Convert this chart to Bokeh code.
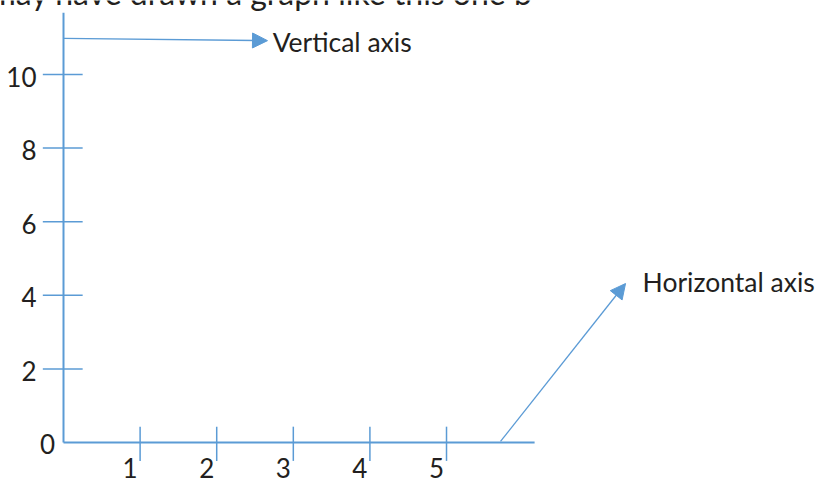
from bokeh.plotting import figure
from bokeh.models import Range1d, Arrow, NormalHead
from bokeh.core.properties import value
from bokeh.embed import file_html
from bokeh.resources import INLINE

# ---- data ----
x_ticks = [1, 2, 3, 4, 5]
x_labels = ["1", "2", "3", "4", "5"]
y_ticks = [2, 4, 6, 8, 10]
y_labels = ["2", "4", "6", "8", "10"]
x_axis_end = 6.15
y_axis_end = 11.68

BLUE = "#5B9BD5"
TXT = "#231F20"
FONT = value("Lato")
NUM_SIZE = "26px"
LBL_SIZE = "26.5px"

p = figure(width=817, height=479, output_backend="svg", toolbar_location=None,
           x_range=Range1d(-0.8225, 9.843), y_range=Range1d(-1.0054, 12.011),
           min_border=0)
p.axis.visible = False
p.grid.visible = False
p.outline_line_color = None
p.background_fill_color = "white"
p.border_fill_color = "white"

# main axes
p.line([0, 0], [0, y_axis_end], line_color=BLUE, line_width=2)
p.line([0, x_axis_end], [0, 0], line_color=BLUE, line_width=2)

# y tick marks and labels
p.segment(x0=[-0.27] * len(y_ticks), y0=y_ticks, x1=[0.25] * len(y_ticks), y1=y_ticks,
          line_color=BLUE, line_width=1.5)
p.text(x=[0] * len(y_ticks), y=y_ticks, text=y_labels, x_offset=-27, y_offset=2,
       text_align="right", text_baseline="middle", text_font=FONT,
       text_font_size=NUM_SIZE, text_color=TXT)

# x tick marks and labels
p.segment(x0=x_ticks, y0=[0.43] * len(x_ticks), x1=x_ticks, y1=[-0.5] * len(x_ticks),
          line_color=BLUE, line_width=1.5)
p.text(x=x_ticks, y=[0] * len(x_ticks), text=x_labels, x_offset=-10, y_offset=25,
       text_align="center", text_baseline="middle", text_font=FONT,
       text_font_size=NUM_SIZE, text_color=TXT)

# origin label
p.text(x=[0], y=[0], text=["0"], x_offset=-16, y_offset=1,
       text_align="center", text_baseline="middle", text_font=FONT,
       text_font_size=NUM_SIZE, text_color=TXT)

# annotation arrows
p.add_layout(Arrow(end=NormalHead(size=15, fill_color=BLUE, line_color=BLUE),
                   x_start=0, y_start=10.98, x_end=2.663, y_end=10.92,
                   line_color=BLUE, line_width=1.3))
p.add_layout(Arrow(end=NormalHead(size=15, fill_color=BLUE, line_color=BLUE),
                   x_start=5.705, y_start=0.03, x_end=7.337, y_end=4.32,
                   line_color=BLUE, line_width=1.3))

p.text(x=[2.73], y=[10.88], text=["Vertical axis"], text_align="left",
       text_baseline="middle", text_font=FONT, text_font_size=LBL_SIZE, text_color=TXT)
p.text(x=[7.56], y=[4.37], text=["Horizontal axis"], text_align="left",
       text_baseline="middle", text_font=FONT, text_font_size=LBL_SIZE, text_color=TXT)

# cut-off sentence at the top of the page
p.text(x=[-0.966], y=[12.225], text=["may have drawn a graph like this one b"],
       text_align="left", text_baseline="alphabetic", text_font=FONT,
       text_font_size="32px", text_color=TXT)

open("out.html", "w").write(file_html(p, INLINE))
